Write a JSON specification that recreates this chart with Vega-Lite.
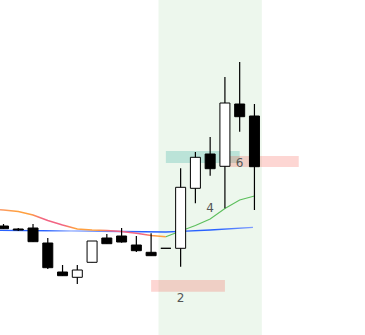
{
  "$schema": "https://vega.github.io/schema/vega-lite/v6.json",
  "width": 365,
  "height": 335,
  "autosize": "none",
  "padding": 0,
  "background": "white",
  "config": {"view": {"stroke": null}},
  "datasets": {
    "candles": [
      {"i": 1, "open": 100.9, "high": 101.1, "low": 100.6, "close": 100.63},
      {"i": 2, "open": 100.6, "high": 100.7, "low": 100.4, "close": 100.5},
      {"i": 3, "open": 100.7, "high": 101.1, "low": 99.3, "close": 99.33},
      {"i": 4, "open": 99.2, "high": 99.7, "low": 96.6, "close": 96.73},
      {"i": 5, "open": 96.3, "high": 97.0, "low": 95.9, "close": 95.93},
      {"i": 6, "open": 95.77, "high": 97.0, "low": 95.1, "close": 96.5},
      {"i": 7, "open": 97.27, "high": 99.4, "low": 97.27, "close": 99.4},
      {"i": 8, "open": 99.7, "high": 100.1, "low": 99.13, "close": 99.13},
      {"i": 9, "open": 99.9, "high": 100.7, "low": 99.23, "close": 99.3},
      {"i": 10, "open": 99.0, "high": 99.9, "low": 98.3, "close": 98.43},
      {"i": 11, "open": 98.27, "high": 100.17, "low": 97.93, "close": 97.93},
      {"i": 12, "open": 98.67, "high": 98.67, "low": 98.67, "close": 98.67},
      {"i": 13, "open": 98.67, "high": 106.67, "low": 96.83, "close": 104.77},
      {"i": 14, "open": 104.67, "high": 108.3, "low": 103.17, "close": 107.77},
      {"i": 15, "open": 108.1, "high": 109.8, "low": 105.93, "close": 106.63},
      {"i": 16, "open": 106.87, "high": 115.8, "low": 102.67, "close": 113.2},
      {"i": 17, "open": 113.1, "high": 117.3, "low": 110.33, "close": 111.83},
      {"i": 18, "open": 111.9, "high": 113.1, "low": 102.5, "close": 106.83}
    ],
    "maSlow": [
      {"i": 0.763, "v": 102.53},
      {"i": 1, "v": 102.5},
      {"i": 2, "v": 102.35},
      {"i": 3, "v": 102.0},
      {"i": 4, "v": 101.45},
      {"i": 5, "v": 101.0},
      {"i": 6, "v": 100.6},
      {"i": 7, "v": 100.5},
      {"i": 8, "v": 100.45},
      {"i": 9, "v": 100.35},
      {"i": 10, "v": 100.17},
      {"i": 11, "v": 99.95},
      {"i": 12, "v": 99.83}
    ],
    "maGreen": [
      {"i": 12, "v": 99.83},
      {"i": 13, "v": 100.4},
      {"i": 14, "v": 100.95},
      {"i": 15, "v": 101.6},
      {"i": 16, "v": 102.65},
      {"i": 17, "v": 103.5},
      {"i": 18, "v": 103.9}
    ],
    "maBlue": [
      {"i": 0.763, "v": 100.47},
      {"i": 6, "v": 100.4},
      {"i": 12, "v": 100.3},
      {"i": 13, "v": 100.37},
      {"i": 15, "v": 100.5},
      {"i": 17.9, "v": 100.77}
    ],
    "zones": [
      {"x0": 12, "x1": 17, "top": 108.4, "bottom": 107.2, "kind": "demand"},
      {"x0": 16, "x1": 21, "top": 107.9, "bottom": 106.8, "kind": "supply"},
      {"x0": 11, "x1": 16, "top": 95.5, "bottom": 94.33, "kind": "supply"}
    ],
    "region": [{"x0": 11.5, "x1": 18.5}],
    "labels": [
      {"i": 13, "p": 93.7, "label": "2"},
      {"i": 15, "p": 102.73, "label": "4"},
      {"i": 17, "p": 107.17, "label": "6"}
    ]
  },
  "layer": [
    {
      "data": {"name": "region"},
      "mark": {"type": "rect", "fill": "#4caf50", "opacity": 0.1},
      "encoding": {
        "x": {"field": "x0", "type": "quantitative", "scale": {"domain": [0.763, 25.49], "nice": false, "zero": false, "padding": 0}, "axis": null},
        "x2": {"field": "x1"}
      }
    },
    {
      "data": {"name": "zones"},
      "mark": {"type": "rect"},
      "encoding": {
        "x": {"field": "x0", "type": "quantitative"},
        "x2": {"field": "x1"},
        "y": {"field": "top", "type": "quantitative", "scale": {"domain": [90, 123.5], "nice": false, "zero": false, "padding": 0}, "axis": null},
        "y2": {"field": "bottom"},
        "fill": {"field": "kind", "type": "nominal", "scale": {"domain": ["demand", "supply"], "range": ["#26a69a", "#f44336"]}, "legend": null},
        "opacity": {"field": "kind", "type": "nominal", "scale": {"domain": ["demand", "supply"], "range": [0.25, 0.22]}, "legend": null}
      }
    },
    {
      "data": {"name": "maBlue"},
      "mark": {"type": "line", "strokeWidth": 1.3, "color": {"gradient": "linear", "x1": 0, "x2": 1, "y1": 0, "y2": 0, "stops": [
        {"offset": 0, "color": "#2962ff"},
        {"offset": 0.18, "color": "#2962ff"},
        {"offset": 0.28, "color": "#9db5ff"},
        {"offset": 0.4, "color": "#6a8fff"},
        {"offset": 0.55, "color": "#2962ff"},
        {"offset": 0.85, "color": "#2962ff"},
        {"offset": 1, "color": "#7f9dff"}
      ]}},
      "encoding": {
        "x": {"field": "i", "type": "quantitative"},
        "y": {"field": "v", "type": "quantitative"}
      }
    },
    {
      "data": {"name": "maSlow"},
      "mark": {"type": "line", "strokeWidth": 1.5, "color": {"gradient": "linear", "x1": 0, "x2": 1, "y1": 0, "y2": 0, "stops": [
        {"offset": 0, "color": "#fb9a6a"},
        {"offset": 0.1, "color": "#ffa040"},
        {"offset": 0.18, "color": "#ffa040"},
        {"offset": 0.26, "color": "#f26483"},
        {"offset": 0.38, "color": "#f26483"},
        {"offset": 0.45, "color": "#ffa040"},
        {"offset": 0.58, "color": "#ffa040"},
        {"offset": 0.68, "color": "#f26483"},
        {"offset": 0.86, "color": "#f26483"},
        {"offset": 0.94, "color": "#ffa040"},
        {"offset": 1, "color": "#ffa040"}
      ]}},
      "encoding": {
        "x": {"field": "i", "type": "quantitative"},
        "y": {"field": "v", "type": "quantitative"}
      }
    },
    {
      "data": {"name": "maGreen"},
      "mark": {"type": "line", "strokeWidth": 1.1, "color": "#5cbf5c"},
      "encoding": {
        "x": {"field": "i", "type": "quantitative"},
        "y": {"field": "v", "type": "quantitative"}
      }
    },
    {
      "data": {"name": "candles"},
      "mark": {"type": "rule", "color": "black", "strokeWidth": 1.2},
      "encoding": {
        "x": {"field": "i", "type": "quantitative"},
        "y": {"field": "low", "type": "quantitative"},
        "y2": {"field": "high"}
      }
    },
    {
      "data": {"name": "candles"},
      "mark": {"type": "bar", "size": 10, "stroke": "black", "strokeWidth": 1},
      "encoding": {
        "x": {"field": "i", "type": "quantitative"},
        "y": {"field": "open", "type": "quantitative"},
        "y2": {"field": "close"},
        "fill": {"condition": {"test": "datum.close >= datum.open", "value": "white"}, "value": "black"}
      }
    },
    {
      "data": {"name": "labels"},
      "mark": {"type": "text", "font": "DejaVu Sans", "fontSize": 12, "color": "#555555", "baseline": "middle", "align": "center"},
      "encoding": {
        "x": {"field": "i", "type": "quantitative"},
        "y": {"field": "p", "type": "quantitative"},
        "text": {"field": "label"}
      }
    }
  ]
}
